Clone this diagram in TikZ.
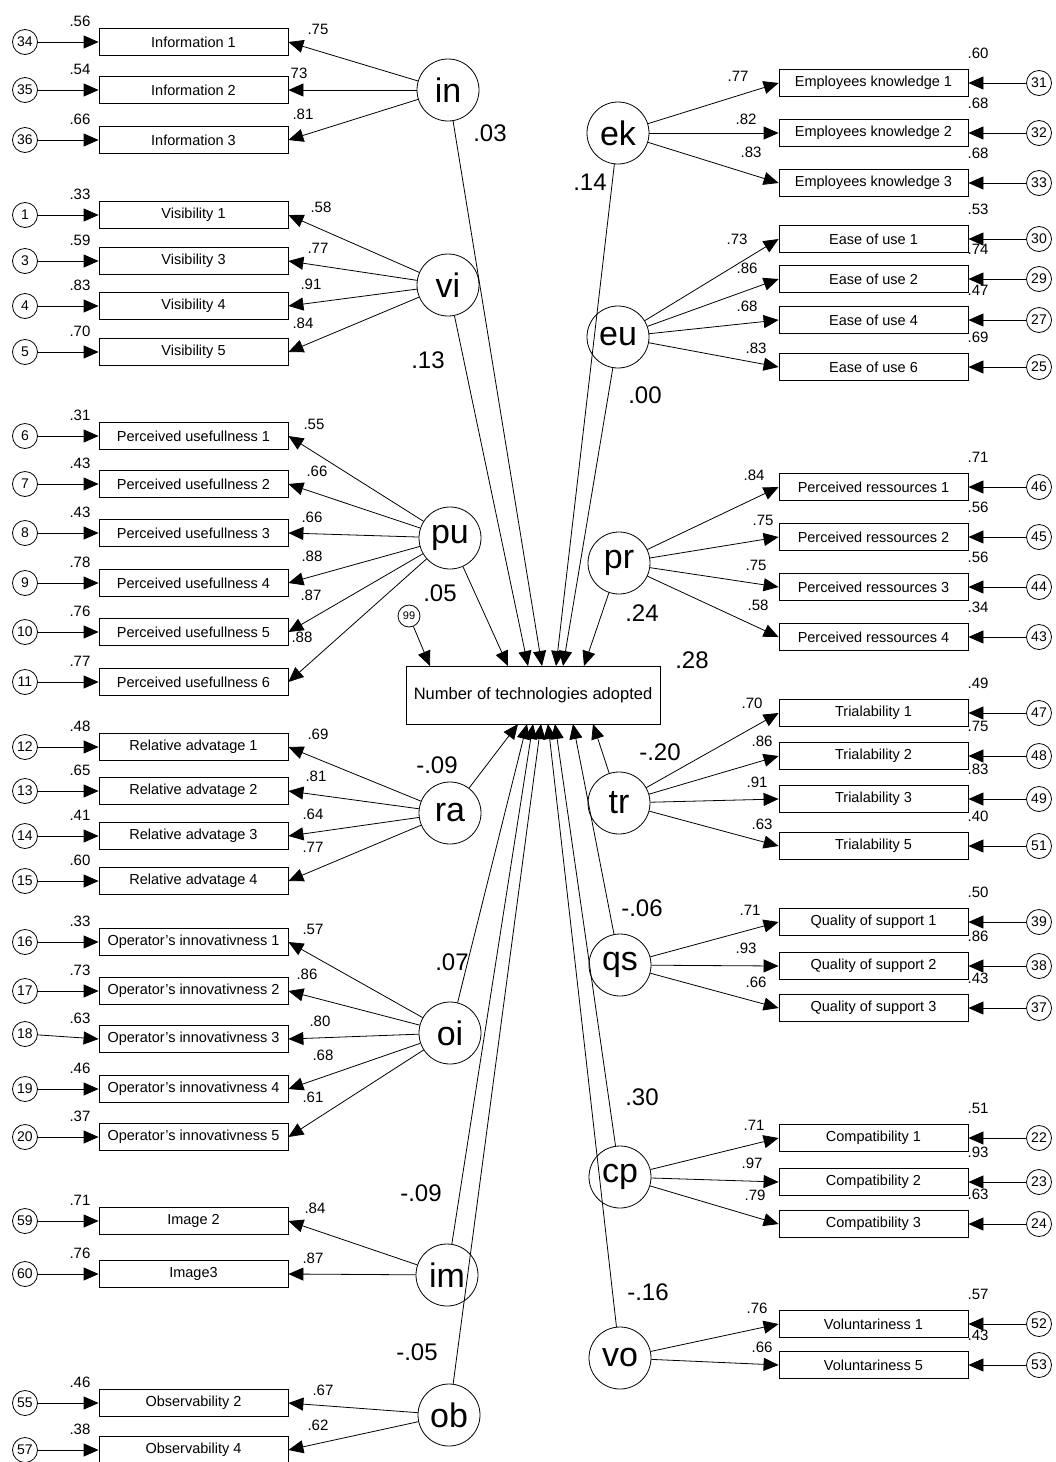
\documentclass[tikz,border=0pt]{standalone}
\usepackage{fontspec}
\setmainfont{Liberation Sans}
\usetikzlibrary{arrows.meta}
\begin{document}
\begin{tikzpicture}[x=1pt,y=-1pt,
  ind/.style={draw,line width=0.8pt,minimum width=189pt,minimum height=27pt,inner sep=0pt,font=\fontsize{14.5}{15}\selectfont},
  err/.style={draw,circle,line width=0.8pt,minimum size=25pt,inner sep=0pt,font=\fontsize{14}{14}\selectfont},
  lat/.style={draw,circle,line width=0.8pt,minimum size=62pt,inner sep=0pt,font=\fontsize{34}{34}\selectfont},
  dep/.style={draw,line width=0.8pt,minimum width=254pt,minimum height=58pt,inner sep=0pt,font=\fontsize{16.5}{17}\selectfont},
  num/.style={inner sep=0pt,font=\fontsize{15}{15}\selectfont},
  coef/.style={inner sep=0pt,font=\fontsize{24}{24}\selectfont},
  arr/.style={-{Triangle[length=15pt,width=13pt]},line width=0.8pt}]
\useasboundingbox (0,0) rectangle (1056,1462);
% latent variables
\node[lat] (Lin) at (448,90) {in};
\node[lat] (Lvi) at (448,285) {vi};
\node[lat] (Lpu) at (450,538) {pu};
\node[lat] (Lra) at (450,813) {ra};
\node[lat] (Loi) at (450,1033) {oi};
\node[lat] (Lim) at (447,1275) {im};
\node[lat] (Lob) at (449,1415) {ob};
\node[lat] (Lek) at (618,133) {ek};
\node[lat] (Leu) at (618,337) {eu};
\node[lat] (Lpr) at (619,563) {pr};
\node[lat] (Ltr) at (619,803) {tr};
\node[lat] (Lqs) at (620,965) {qs};
\node[lat] (Lcp) at (620,1177) {cp};
\node[lat] (Lvo) at (620,1358) {vo};
% dependent variable
\node[dep] (N) at (533,695) {Number of technologies adopted};
\node[err,minimum size=22pt,font=\fontsize{11}{11}\selectfont] (e99) at (409,616) {99};
% left indicators
\foreach \nm/\txt/\yy/\ey/\en/\lx/\ly/\ld/\res/\lat in {
 i1/Information 1/42/42/34/318/29/.75/.56/Lin,
 i2/Information 2/90/90/35/299/73/73/.54/Lin,
 i3/Information 3/140/140/36/303/114/.81/.66/Lin,
 v1/Visibility 1/215/215/1/321/207/.58/.33/Lvi,
 v3/Visibility 3/261/261/3/318/248/.77/.59/Lvi,
 v4/Visibility 4/306/306/4/311/284/.91/.83/Lvi,
 v5/Visibility 5/352/352/5/303/323/.84/.70/Lvi,
 u1/Perceived usefullness 1/436/436/6/314/424/.55/.31/Lpu,
 u2/Perceived usefullness 2/484/484/7/317/471/.66/.43/Lpu,
 u3/Perceived usefullness 3/533/533/8/312/517/.66/.43/Lpu,
 u4/Perceived usefullness 4/583/583/9/312/556/.88/.78/Lpu,
 u5/Perceived usefullness 5/632/632/10/311/595/.87/.76/Lpu,
 u6/Perceived usefullness 6/682/682/11/302/637/.88/.77/Lpu,
 a1/Relative advatage 1/747/747/12/318/734/.69/.48/Lra,
 a2/Relative advatage 2/791/791/13/316/776/.81/.65/Lra,
 a3/Relative advatage 3/836/836/14/313/814/.64/.41/Lra,
 a4/Relative advatage 4/881/881/15/313/847/.77/.60/Lra,
 o1/Operator's innovativness 1/942/942/16/313/929/.57/.33/Loi,
 o2/Operator's innovativness 2/991/991/17/307/974/.86/.73/Loi,
 o3/Operator's innovativness 3/1039/1034/18/320/1021/.80/.63/Loi,
 o4/Operator's innovativness 4/1089/1089/19/323/1055/.68/.46/Loi,
 o5/Operator's innovativness 5/1137/1137/20/313/1097/.61/.37/Loi,
 g2/Image 2/1221/1221/59/315/1208/.84/.71/Lim,
 g3/Image3/1274/1274/60/313/1258/.87/.76/Lim,
 b2/Observability 2/1403/1403/55/323/1390/.67/.46/Lob,
 b4/Observability 4/1450/1450/57/318/1425/.62/.38/Lob}{
  \node[ind] (\nm) at (193.5,\yy) {\txt};
  \node[err] (d\en) at (25,\ey) {\en};
  \draw[arr] (d\en) -- (\nm.west);
  \draw[arr] (\lat) -- (\nm.east);
  \node[num] at (\lx,\ly) {\ld};
  \node[num] at (80,{\yy-21}) {\res};
}
% right indicators
\foreach \nm/\txt/\yy/\en/\lx/\ly/\ld/\res/\lat in {
 k1/Employees knowledge 1/83/31/738/76/.77/.60/Lek,
 k2/Employees knowledge 2/133/32/746/119/.82/.68/Lek,
 k3/Employees knowledge 3/183/33/751/152/.83/.68/Lek,
 e1/Ease of use 1/239/30/737/239/.73/.53/Leu,
 e2/Ease of use 2/279/29/747/268/.86/.74/Leu,
 e4/Ease of use 4/320/27/747/306/.68/.47/Leu,
 e6/Ease of use 6/367/25/756/348/.83/.69/Leu,
 r1/Perceived ressources 1/487/46/754/475/.84/.71/Lpr,
 r2/Perceived ressources 2/537/45/763/520/.75/.56/Lpr,
 r3/Perceived ressources 3/587/44/756/565/.75/.56/Lpr,
 r4/Perceived ressources 4/637/43/758/605/.58/.34/Lpr,
 t1/Trialability 1/713/47/752/703/.70/.49/Ltr,
 t2/Trialability 2/756/48/762/741/.86/.75/Ltr,
 t3/Trialability 3/799/49/757/782/.91/.83/Ltr,
 t5/Trialability 5/846/51/762/824/.63/.40/Ltr,
 q1/Quality of support 1/922/39/750/910/.71/.50/Lqs,
 q2/Quality of support 2/966/38/746/948/.93/.86/Lqs,
 q3/Quality of support 3/1008/37/756/982/.66/.43/Lqs,
 c1/Compatibility 1/1138/22/754/1125/.71/.51/Lcp,
 c2/Compatibility 2/1182/23/752/1163/.97/.93/Lcp,
 c3/Compatibility 3/1224/24/755/1195/.79/.63/Lcp,
 w1/Voluntariness 1/1324/52/757/1308/.76/.57/Lvo,
 w5/Voluntariness 5/1365/53/762/1347/.66/.43/Lvo}{
  \node[ind] (\nm) at (873.5,\yy) {\txt};
  \node[err] (d\en) at (1039,\yy) {\en};
  \draw[arr] (d\en) -- (\nm.east);
  \draw[arr] (\lat) -- (\nm.west);
  \node[num] at (\lx,\ly) {\ld};
  \node[num] at (978,{\yy-30}) {\res};
}
% arrow targets on the dependent box
\coordinate (T99) at (430,666);
\coordinate (Tpu) at (508,666);
\coordinate (Tvi) at (528,666);
\coordinate (Tin) at (542,666);
\coordinate (Tek) at (556,666);
\coordinate (Teu) at (563,666);
\coordinate (Tpr) at (584,666);
\coordinate (Bra) at (518,724);
\coordinate (Boi) at (527,724);
\coordinate (Bim) at (533,724);
\coordinate (Bob) at (541,724);
\coordinate (Bvo) at (548,724);
\coordinate (Bcp) at (555,724);
\coordinate (Bqs) at (573,724);
\coordinate (Btr) at (593,724);
\draw[arr] (e99) -- (T99);
\draw[arr] (Lpu) -- (Tpu);
\draw[arr] (Lvi) -- (Tvi);
\draw[arr] (Lin) -- (Tin);
\draw[arr] (Lek) -- (Tek);
\draw[arr] (Leu) -- (Teu);
\draw[arr] (Lpr) -- (Tpr);
\draw[arr] (Lra) -- (Bra);
\draw[arr] (Loi) -- (Boi);
\draw[arr] (Lim) -- (Bim);
\draw[arr] (Lob) -- (Bob);
\draw[arr] (Lvo) -- (Bvo);
\draw[arr] (Lcp) -- (Bcp);
\draw[arr] (Lqs) -- (Bqs);
\draw[arr] (Ltr) -- (Btr);
% path coefficients
\node[coef] at (490,133) {.03};
\node[coef] at (428,360) {.13};
\node[coef] at (440,593) {.05};
\node[coef] at (437,765) {-.09};
\node[coef] at (452,962) {.07};
\node[coef] at (421,1193) {-.09};
\node[coef] at (417,1352) {-.05};
\node[coef] at (590,182) {.14};
\node[coef] at (645,395) {.00};
\node[coef] at (642,613) {.24};
\node[coef] at (692,660) {.28};
\node[coef] at (660,752) {-.20};
\node[coef] at (642,908) {-.06};
\node[coef] at (642,1097) {.30};
\node[coef] at (648,1292) {-.16};
\end{tikzpicture}
\end{document}
